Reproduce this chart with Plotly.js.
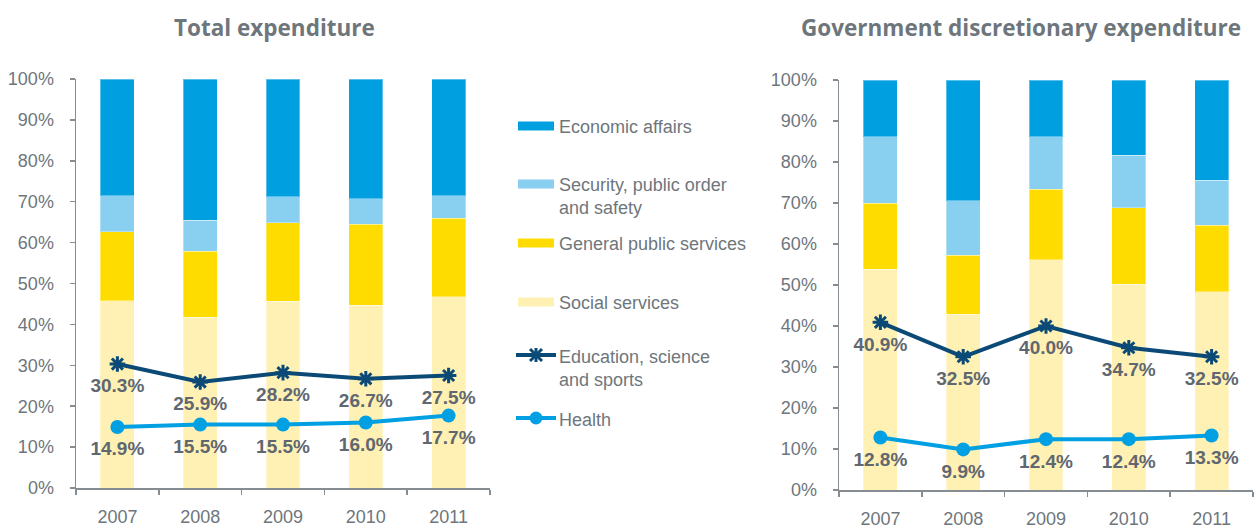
<!DOCTYPE html>
<html>
<head>
<meta charset="utf-8">
<script src="https://cdn.plot.ly/plotly-3.0.1.min.js"></script>
<style>html,body{margin:0;padding:0;background:#fff;}#chart{width:1256px;height:529px;}</style>
</head>
<body>
<div id="chart"></div>
<script>
// ---- data ----
const years = ["2007", "2008", "2009", "2010", "2011"];
const tickLabels = ["0%", "10%", "20%", "30%", "40%", "50%", "60%", "70%", "80%", "90%", "100%"];
const tickValues = [0, 10, 20, 30, 40, 50, 60, 70, 80, 90, 100];

// Total expenditure (share of total, %)
const totalSocial = [45.8, 41.7, 45.7, 44.7, 46.8];
const totalGeneral = [16.9, 16.2, 19.2, 19.8, 19.1];
const totalSecurity = [8.8, 7.6, 6.3, 6.2, 5.6];
const totalEconomic = [28.5, 34.5, 28.8, 29.3, 28.5];
const totalEducation = [30.3, 25.9, 28.2, 26.7, 27.5];
const totalHealth = [14.9, 15.5, 15.5, 16.0, 17.7];

// Government discretionary expenditure (%)
const discSocial = [53.9, 42.9, 56.1, 50.2, 48.4];
const discGeneral = [16.0, 14.4, 17.2, 18.7, 16.2];
const discSecurity = [16.3, 13.2, 12.9, 12.8, 11.0];
const discEconomic = [13.8, 29.5, 13.8, 18.3, 24.4];
const discEducation = [40.9, 32.5, 40.0, 34.7, 32.5];
const discHealth = [12.8, 9.9, 12.4, 12.4, 13.3];

const seriesNames = ["Economic affairs", "Security, public order<br>and safety", "General public services",
  "Social services", "Education, science<br>and sports", "Health"];
const chartTitles = ["Total expenditure", "Government discretionary expenditure"];

// ---- style ----
const W = 1256, H = 529;
const C = {
  economic: "#009fe0", security: "#88cff0", general: "#ffdc00", social: "#fff0b3",
  education: "#0b4a76", health: "#00a0e2", text: "#6e767c", label: "#5f6770", axis: "#858c92"
};
const px = v => v / W, py = v => 1 - v / H;

function barTrace(name, y, color, xa, ya) {
  return {type: "bar", x: years, y: y, name: name, xaxis: xa, yaxis: ya,
    marker: {color: color, line: {color: "rgba(255,255,255,0.35)", width: 1}},
    showlegend: false, hoverinfo: "y"};
}
function lineTrace(name, y, color, symbol, size, xa, ya) {
  return {type: "scatter", mode: "lines+markers", x: years, y: y, name: name, xaxis: xa, yaxis: ya,
    line: {color: color, width: 4},
    marker: symbol === "circle" ? {symbol: "circle", size: size, color: color}
      : {symbol: symbol, size: size, color: color, line: {color: color, width: 3}},
    showlegend: false, cliponaxis: false};
}
const labelFont = {family: "Liberation Sans Narrow, Arial Narrow, Liberation Sans, Arial, sans-serif", size: 19, color: C.label, weight: 700};
function labelTrace(y, xa, ya) {
  return {type: "scatter", mode: "markers+text", x: years, y: y, xaxis: xa, yaxis: ya,
    text: y.map(v => v.toFixed(1) + "%"), textposition: "bottom center", textfont: labelFont,
    marker: {size: 21, opacity: 0, color: "#fff"}, showlegend: false, cliponaxis: false, hoverinfo: "skip"};
}

const traces = [
  barTrace("Social services", totalSocial, C.social, "x", "y"),
  barTrace("General public services", totalGeneral, C.general, "x", "y"),
  barTrace("Security, public order and safety", totalSecurity, C.security, "x", "y"),
  barTrace("Economic affairs", totalEconomic, C.economic, "x", "y"),
  lineTrace("Education, science and sports", totalEducation, C.education, "asterisk-open", 13, "x", "y"),
  lineTrace("Health", totalHealth, C.health, "circle", 14, "x", "y"),
  labelTrace(totalEducation, "x", "y"),
  labelTrace(totalHealth, "x", "y"),
  barTrace("Social services", discSocial, C.social, "x2", "y2"),
  barTrace("General public services", discGeneral, C.general, "x2", "y2"),
  barTrace("Security, public order and safety", discSecurity, C.security, "x2", "y2"),
  barTrace("Economic affairs", discEconomic, C.economic, "x2", "y2"),
  lineTrace("Education, science and sports", discEducation, C.education, "asterisk-open", 13, "x2", "y2"),
  lineTrace("Health", discHealth, C.health, "circle", 14, "x2", "y2"),
  labelTrace(discEducation, "x2", "y2"),
  labelTrace(discHealth, "x2", "y2")
];

const tickFont = {family: "Liberation Sans, Arial, sans-serif", size: 18, color: C.text};
function xAxis(domain, anchor) {
  return {domain: domain, anchor: anchor, type: "category", range: [-0.5, 4.5], fixedrange: true,
    showline: true, linecolor: C.axis, linewidth: 1.5, ticks: "outside", tickson: "boundaries",
    ticklen: 5, tickcolor: C.axis, tickwidth: 1.5, tickfont: tickFont, ticklabelstandoff: 12,
    showgrid: false, zeroline: false, automargin: false};
}
function yAxis(domain, anchor) {
  return {domain: domain, anchor: anchor, range: [0, 100], fixedrange: true,
    tickvals: tickValues, ticktext: tickLabels, showline: true, linecolor: C.axis, linewidth: 1.5,
    ticks: "outside", ticklen: 5, tickcolor: C.axis, tickwidth: 1.5, tickfont: tickFont,
    ticklabelstandoff: 12, showgrid: false, zeroline: false, automargin: false};
}

const annotations = [];
const shapes = [];
// chart titles
const titleFont = {family: "Open Sans, Roboto, Liberation Sans, Arial, sans-serif", size: 22.5, color: C.text, weight: 700};
annotations.push({xref: "paper", yref: "paper", x: px(274), y: py(27), xanchor: "center", yanchor: "middle",
  text: "<b>" + chartTitles[0] + "</b>", showarrow: false, font: titleFont});
annotations.push({xref: "paper", yref: "paper", x: px(1021), y: py(27), xanchor: "center", yanchor: "middle",
  text: "<b>" + chartTitles[1] + "</b>", showarrow: false, font: titleFont});

// legend (drawn manually)
const legFont = {family: "Liberation Sans, Arial, sans-serif", size: 18, color: C.text};
const legY = [126, 184, 243, 302, 356, 419];
const legColors = [C.economic, C.security, C.general, C.social];
seriesNames.forEach((n, i) => {
  annotations.push({xref: "paper", yref: "paper", x: px(557), y: py(legY[i] - 11), xanchor: "left", yanchor: "top",
    text: n, align: "left", showarrow: false, font: legFont});
  if (i < 4) {
    shapes.push({type: "rect", xref: "paper", yref: "paper", x0: px(518), x1: px(554),
      y0: py(legY[i] - 4.5), y1: py(legY[i] + 4.5), fillcolor: legColors[i], line: {width: 0}});
  }
});
// education legend line + asterisk
(function () {
  const y = legY[4] - 1, cx = 536;
  shapes.push({type: "line", xref: "paper", yref: "paper", x0: px(516), x1: px(556), y0: py(y), y1: py(y),
    line: {color: C.education, width: 4}});
  const r = 6;
  shapes.push({type: "line", xref: "paper", yref: "paper", x0: px(cx - r), x1: px(cx + r), y0: py(y - r), y1: py(y + r), line: {color: C.education, width: 3}});
  shapes.push({type: "line", xref: "paper", yref: "paper", x0: px(cx - r), x1: px(cx + r), y0: py(y + r), y1: py(y - r), line: {color: C.education, width: 3}});
  shapes.push({type: "line", xref: "paper", yref: "paper", x0: px(cx), x1: px(cx), y0: py(y - r - 1), y1: py(y + r + 1), line: {color: C.education, width: 3}});
})();
(function () {
  const y = legY[5] - 1, cx = 536, r = 6.5;
  shapes.push({type: "line", xref: "paper", yref: "paper", x0: px(516), x1: px(556), y0: py(y), y1: py(y),
    line: {color: C.health, width: 4}});
  shapes.push({type: "circle", xref: "paper", yref: "paper", x0: px(cx - r), x1: px(cx + r), y0: py(y - r), y1: py(y + r),
    fillcolor: C.health, line: {width: 0}});
})();

const layout = {
  width: W, height: H, margin: {l: 0, r: 0, t: 0, b: 0}, paper_bgcolor: "#fff", plot_bgcolor: "#fff",
  barmode: "stack", bargap: 0.59, showlegend: false,
  font: {family: "Liberation Sans, Arial, sans-serif", color: C.text},
  xaxis: xAxis([px(76), px(490)], "y"),
  yaxis: yAxis([1 - 488 / H, 1 - 79 / H], "x"),
  xaxis2: xAxis([px(839), px(1253)], "y2"),
  yaxis2: yAxis([1 - 490 / H, 1 - 80 / H], "x2"),
  annotations: annotations, shapes: shapes
};

Plotly.newPlot("chart", traces, layout, {staticPlot: true, displayModeBar: false});
</script>
</body>
</html>
